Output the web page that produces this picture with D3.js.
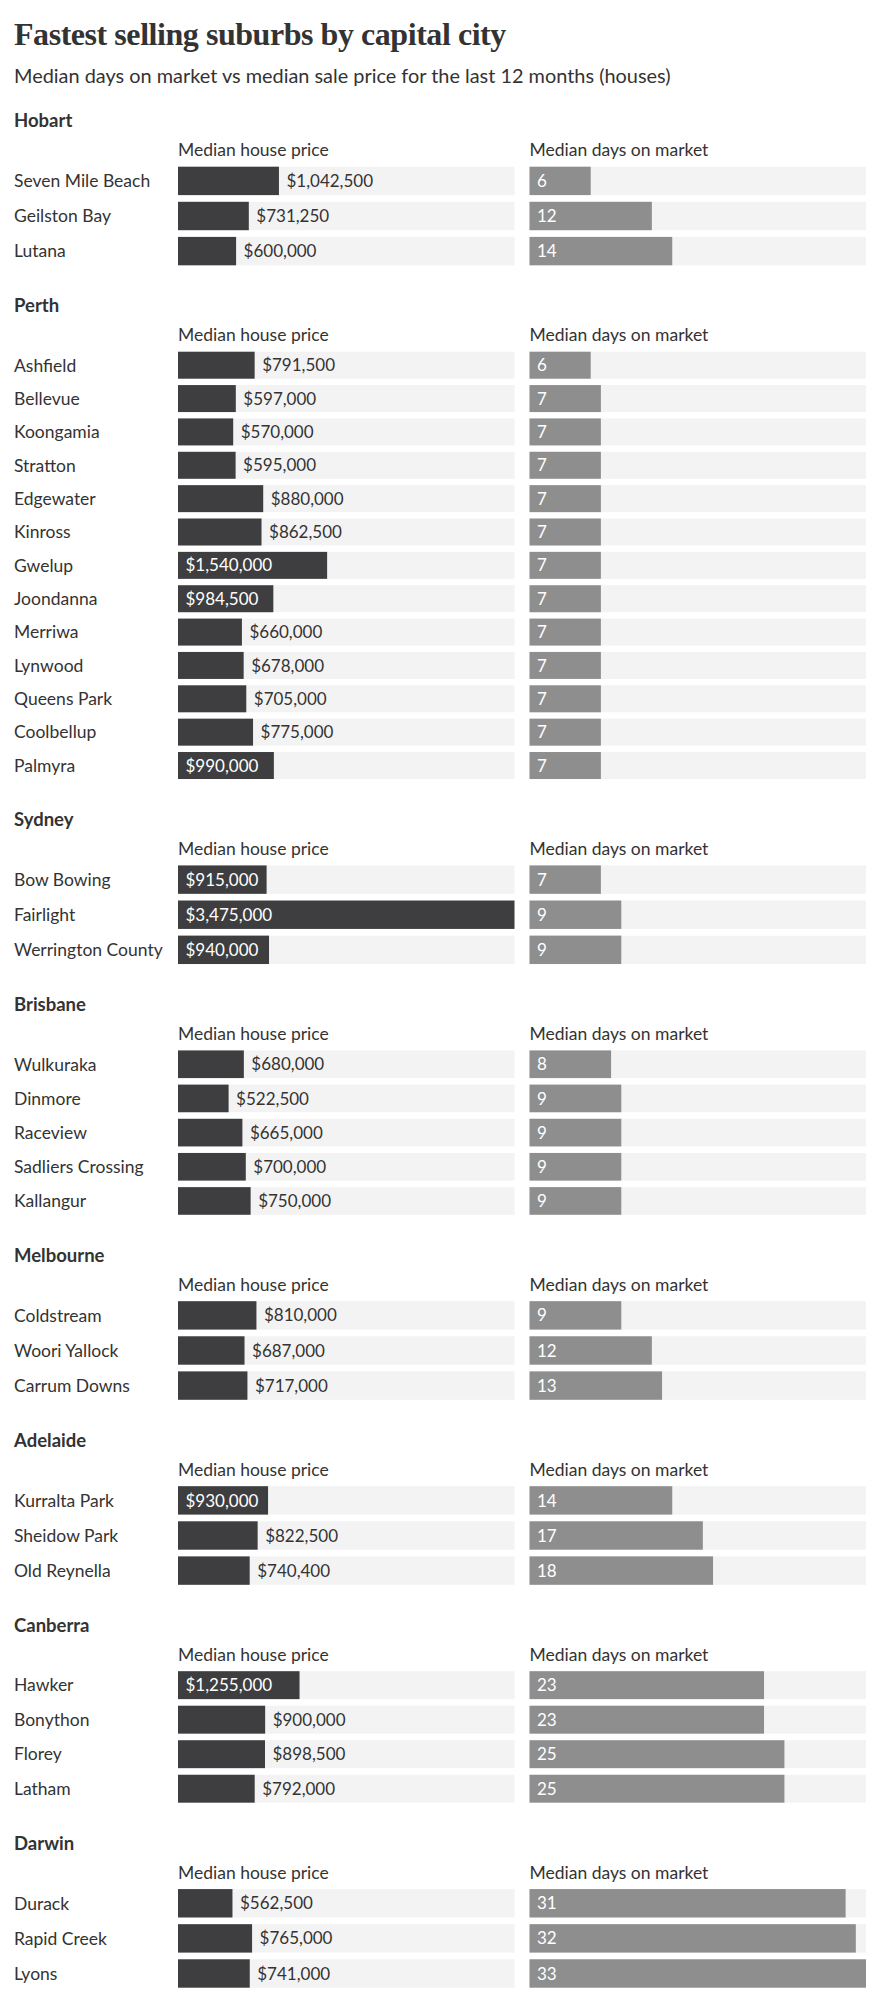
<!DOCTYPE html>
<html>
<head>
<meta charset="utf-8">
<script src="https://cdn.jsdelivr.net/npm/d3@7"></script>
<style>
  body { margin: 0; background: #fff; }
  svg text { font-family: Lato, "Open Sans", sans-serif; fill: #333; }
</style>
</head>
<body>
<div id="chart"></div>
<script>
// Cities, suburbs and values
const cities = ['Hobart', 'Perth', 'Sydney', 'Brisbane', 'Melbourne', 'Adelaide', 'Canberra', 'Darwin'];

const suburbs = [
    ['Seven Mile Beach', 'Geilston Bay', 'Lutana'],
    ['Ashfield', 'Bellevue', 'Koongamia', 'Stratton', 'Edgewater', 'Kinross', 'Gwelup', 'Joondanna', 'Merriwa', 'Lynwood', 'Queens Park', 'Coolbellup', 'Palmyra'],
    ['Bow Bowing', 'Fairlight', 'Werrington County'],
    ['Wulkuraka', 'Dinmore', 'Raceview', 'Sadliers Crossing', 'Kallangur'],
    ['Coldstream', 'Woori Yallock', 'Carrum Downs'],
    ['Kurralta Park', 'Sheidow Park', 'Old Reynella'],
    ['Hawker', 'Bonython', 'Florey', 'Latham'],
    ['Durack', 'Rapid Creek', 'Lyons']
];

const prices = [
    [1042500, 731250, 600000],
    [791500, 597000, 570000, 595000, 880000, 862500, 1540000, 984500, 660000, 678000, 705000, 775000, 990000],
    [915000, 3475000, 940000],
    [680000, 522500, 665000, 700000, 750000],
    [810000, 687000, 717000],
    [930000, 822500, 740400],
    [1255000, 900000, 898500, 792000],
    [562500, 765000, 741000]
];

const days = [
    [6, 12, 14],
    [6, 7, 7, 7, 7, 7, 7, 7, 7, 7, 7, 7, 7],
    [7, 9, 9],
    [8, 9, 9, 9, 9],
    [9, 12, 13],
    [14, 17, 18],
    [23, 23, 25, 25],
    [31, 32, 33]
];

const priceHeader = 'Median house price';
const daysHeader = 'Median days on market';

// Layout
const width = 881, height = 2000;
const priceX0 = 178, daysX0 = 529.5, trackW = 336.5;
const rowStep = 32.87, barH = 26.6;
const firstHeader = 127.3, sectionGap = 86.4;
const pad = 7.5;

const svg = d3.select('#chart')
    .append('svg')
        .attr('width', width)
        .attr('height', height);

svg.append('text')
    .attr('x', 14)
    .attr('y', 45)
    .style('font-family', '"Liberation Serif", "DejaVu Serif", serif')
    .style('font-weight', 'bold')
    .style('font-size', '32px')
    .style('letter-spacing', '-0.45px')
    .text('Fastest selling suburbs by capital city');

svg.append('text')
    .attr('x', 14)
    .attr('y', 82.7)
    .style('font-size', '19.9px')
    .text('Median days on market vs median sale price for the last 12 months (houses)');

const allPrices = prices.flat();
const allDays = days.flat();

const xPrice = d3.scaleLinear()
    .domain([0, d3.max(allPrices)])
    .range([0, trackW]);

const xDays = d3.scaleLinear()
    .domain([0, d3.max(allDays)])
    .range([0, trackW]);

const fmt = d => '$' + d3.format(',')(d);

// rough label width, so the label goes inside the bar only when there is room
const labelFits = d => xPrice(d.price) >= fmt(d.price).length * 9 + 16;

let sectionY = firstHeader;

cities.forEach((city, ci) => {
    const rows = suburbs[ci].map((s, i) => ({
        name: s,
        price: prices[ci][i],
        days: days[ci][i]
    }));

    const g = svg.append('g')
        .attr('transform', 'translate(0,' + sectionY + ')');

    g.append('text')
        .attr('x', 14)
        .attr('y', 0)
        .style('font-weight', 'bold')
        .style('font-size', '18.5px')
        .text(city);

    g.append('text')
        .attr('x', priceX0)
        .attr('y', 29)
        .style('font-size', '17.5px')
        .text(priceHeader);

    g.append('text')
        .attr('x', daysX0)
        .attr('y', 29)
        .style('font-size', '17.5px')
        .text(daysHeader);

    const y = d3.scaleBand()
        .domain(rows.map(d => d.name))
        .range([39.4, 39.4 + rows.length * rowStep])
        .paddingInner(1 - barH / rowStep)
        .paddingOuter(0)
        .align(0);

    const row = g.selectAll('.row')
        .data(rows)
        .enter()
        .append('g')
            .attr('class', 'row')
            .attr('transform', d => 'translate(0,' + y(d.name) + ')');

    row.append('text')
        .attr('x', 14)
        .attr('y', y.bandwidth() / 2)
        .attr('dy', '0.36em')
        .style('font-size', '17.5px')
        .text(d => d.name);

    // tracks
    row.append('rect')
        .attr('x', priceX0)
        .attr('width', trackW)
        .attr('height', y.bandwidth())
        .attr('fill', '#f3f3f3');

    row.append('rect')
        .attr('x', daysX0)
        .attr('width', trackW)
        .attr('height', y.bandwidth())
        .attr('fill', '#f3f3f3');

    // bars
    row.append('rect')
        .attr('x', priceX0)
        .attr('width', d => xPrice(d.price))
        .attr('height', y.bandwidth())
        .attr('fill', '#3e3e40');

    row.append('rect')
        .attr('x', daysX0)
        .attr('width', d => xDays(d.days))
        .attr('height', y.bandwidth())
        .attr('fill', '#8e8e8f');

    row.append('text')
        .attr('x', d => labelFits(d) ? priceX0 + pad : priceX0 + xPrice(d.price) + pad)
        .attr('y', y.bandwidth() / 2)
        .attr('dy', '0.36em')
        .style('font-size', '17px')
        .style('fill', d => labelFits(d) ? '#fff' : '#333')
        .text(d => fmt(d.price));

    row.append('text')
        .attr('x', daysX0 + pad)
        .attr('y', y.bandwidth() / 2)
        .attr('dy', '0.36em')
        .style('font-size', '17px')
        .style('fill', '#fff')
        .text(d => d.days);

    sectionY += sectionGap + rows.length * rowStep;
});
</script>
</body>
</html>
